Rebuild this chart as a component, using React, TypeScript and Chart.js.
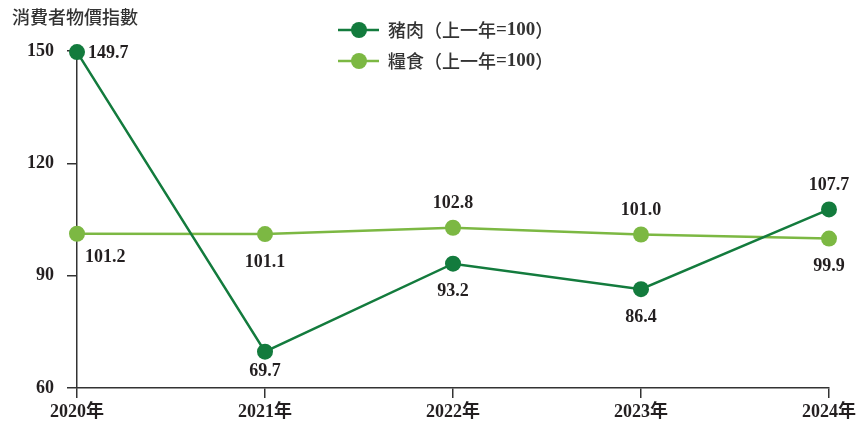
import React, { useEffect, useRef } from "react";
import { Chart, registerables } from "chart.js";

Chart.register(...registerables);

const categories = ["2020年", "2021年", "2022年", "2023年", "2024年"];
const porkValues = [149.7, 69.7, 93.2, 86.4, 107.7];
const grainValues = [101.2, 101.1, 102.8, 101.0, 99.9];
const porkLabel = "豬肉（上一年=100）";
const grainLabel = "糧食（上一年=100）";
const yTitle = "消費者物價指數";
const yTicks = [60, 90, 120, 150];

const DARK = "#137b3d";
const LIGHT = "#7cb843";
const TEXT = "#231f20";
const SERIF = "'Liberation Serif', 'Times New Roman', 'Noto Sans CJK TC', serif";
const SANS = "'Noto Sans CJK TC', 'Noto Sans', sans-serif";

// label placement per point (presentation only)
const porkPlace = ["right", "below", "below", "below", "above"];
const grainPlace = ["belowRight", "below", "above", "above", "below"];

const labelPlugin = {
  id: "pointLabels",
  afterDatasetsDraw(chart: any) {
    const ctx = chart.ctx;
    ctx.save();
    ctx.font = `bold 18px ${SERIF}`;
    ctx.fillStyle = TEXT;
    ctx.textBaseline = "middle";
    chart.data.datasets.forEach((ds: any, di: number) => {
      const meta = chart.getDatasetMeta(di);
      const places = di === 0 ? porkPlace : grainPlace;
      meta.data.forEach((pt: any, i: number) => {
        const v = ds.data[i] as number;
        const txt = v.toFixed(1);
        const p = places[i];
        let x = pt.x;
        let y = pt.y;
        ctx.textAlign = "center";
        if (p === "right") {
          ctx.textAlign = "left";
          x += 11;
          y += 1;
        } else if (p === "belowRight") {
          ctx.textAlign = "left";
          x += 8;
          y += 24;
        } else if (p === "below") {
          y += v < 75 ? 20 : 28;
        } else if (p === "above") {
          y -= 24;
        }
        ctx.fillText(txt, x, y);
      });
    });
    ctx.restore();
  },
};

const decorPlugin = {
  id: "decor",
  afterDraw(chart: any) {
    const ctx = chart.ctx;
    ctx.save();
    // axis title
    ctx.font = `500 18px ${SANS}`;
    ctx.fillStyle = "#333333";
    ctx.textAlign = "left";
    ctx.textBaseline = "middle";
    ctx.fillText(yTitle, 12, 17);

    // legend
    const items = [
      { label: porkLabel, color: DARK, y: 30 },
      { label: grainLabel, color: LIGHT, y: 61 },
    ];
    items.forEach((it) => {
      ctx.strokeStyle = it.color;
      ctx.lineWidth = 2.5;
      ctx.beginPath();
      ctx.moveTo(338, it.y);
      ctx.lineTo(379, it.y);
      ctx.stroke();
      ctx.fillStyle = it.color;
      ctx.beginPath();
      ctx.arc(359, it.y, 8, 0, Math.PI * 2);
      ctx.fill();
      // text in pieces: CJK sans, digits bold serif
      ctx.fillStyle = "#333333";
      const m = it.label.match(/^(.*?)(=\d+)(.*)$/);
      let x = 388;
      const parts = m
        ? [
            { t: m[1], f: `500 18px ${SANS}` },
            { t: m[2], f: `bold 19px ${SERIF}` },
            { t: m[3], f: `500 18px ${SANS}` },
          ]
        : [{ t: it.label, f: `500 18px ${SANS}` }];
      parts.forEach((pp) => {
        ctx.font = pp.f;
        ctx.fillText(pp.t, x, it.y);
        x += ctx.measureText(pp.t).width;
      });
    });
    ctx.restore();
  },
};

export default function App() {
  const ref = useRef<HTMLCanvasElement>(null);
  useEffect(() => {
    document.body.style.margin = "0";
    const canvas = ref.current!;
    const chart = new Chart(canvas, {
      type: "line",
      data: {
        labels: categories,
        datasets: [
          {
            label: porkLabel,
            data: porkValues,
            borderColor: DARK,
            backgroundColor: DARK,
            pointBackgroundColor: DARK,
            pointBorderWidth: 0,
            pointRadius: 8,
            borderWidth: 2.5,
            tension: 0,
            clip: false as any,
          },
          {
            label: grainLabel,
            data: grainValues,
            borderColor: LIGHT,
            backgroundColor: LIGHT,
            pointBackgroundColor: LIGHT,
            pointBorderWidth: 0,
            pointRadius: 8,
            borderWidth: 2.5,
            tension: 0,
            clip: false as any,
          },
        ],
      },
      options: {
        responsive: false,
        animation: false,
        events: [],
        layout: { padding: { top: 51, right: 28, left: 0, bottom: 0 } },
        plugins: {
          legend: { display: false },
          tooltip: { enabled: false },
          title: { display: false },
        },
        scales: {
          x: {
            type: "category",
            offset: false,
            grid: {
              display: true,
              drawOnChartArea: false,
              drawTicks: true,
              tickLength: 10,
              color: "#333333",
              lineWidth: 1.5,
            },
            border: { display: true, color: "#333333", width: 1.5 },
            ticks: {
              color: TEXT,
              font: { family: SERIF, size: 18, weight: "bold" },
              padding: 4,
              maxRotation: 0,
              autoSkip: false,
            },
            afterFit(scale: any) {
              scale.height = 39;
              scale.paddingLeft = 0;
              scale.paddingRight = 0;
            },
          },
          y: {
            min: 60,
            max: 150,
            afterBuildTicks(scale: any) {
              scale.ticks = yTicks.map((v) => ({ value: v }));
            },
            grid: {
              display: true,
              drawOnChartArea: false,
              drawTicks: true,
              tickLength: 10,
              color: "#333333",
              lineWidth: 1.5,
            },
            border: { display: true, color: "#333333", width: 1.5 },
            ticks: {
              color: TEXT,
              font: { family: SERIF, size: 18, weight: "bold" },
              padding: 13,
            },
            afterFit(scale: any) {
              scale.width = 77;
              scale.paddingTop = 0;
              scale.paddingBottom = 0;
            },
          },
        },
      },
      plugins: [labelPlugin, decorPlugin],
    });
    return () => chart.destroy();
  }, []);
  return <canvas ref={ref} width={857} height={427} style={{ display: "block" }} />;
}
